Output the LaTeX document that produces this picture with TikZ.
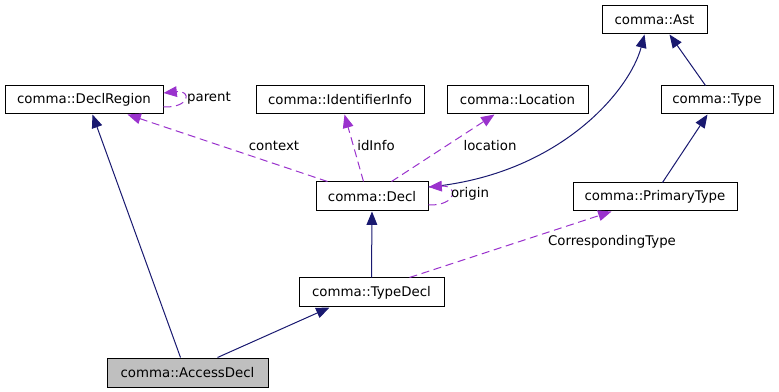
\documentclass[tikz,border=0pt]{standalone}
\usepackage{fontspec}
\setmainfont{DejaVu Sans}
\usetikzlibrary{arrows.meta}
\definecolor{edgeblue}{HTML}{191970}
\definecolor{edgepurple}{HTML}{9A32CD}
\definecolor{boxgray}{HTML}{BFBFBF}
\begin{document}
\begin{tikzpicture}[x=0.75pt,y=-0.75pt,
  cls/.style={draw=black, line width=0.75pt, fill=white, inner sep=0pt, minimum height=21pt, font=\fontsize{10}{12}\selectfont},
  lbl/.style={inner sep=0pt, font=\fontsize{10}{12}\selectfont},
  inh/.style={draw=edgeblue, line width=0.75pt, -{Triangle[length=10pt,width=8pt]}},
  dep/.style={draw=edgepurple, line width=0.75pt, dash pattern=on 6pt off 3.5pt, -{Triangle[length=10pt,width=8pt]}}
]
\useasboundingbox (0,0) rectangle (779,392);

% classes
\node[cls, minimum width=78.75pt] (ast) at (654.5,20) {comma::Ast};
\node[cls, minimum width=118.5pt] (declregion) at (84,100) {comma::DeclRegion};
\node[cls, minimum width=126pt] (idinfo) at (340,100) {comma::IdentifierInfo};
\node[cls, minimum width=105.75pt] (location) at (517.5,100) {comma::Location};
\node[cls, minimum width=84pt] (type) at (717,100) {comma::Type};
\node[cls, minimum width=84pt, minimum height=21.75pt] (decl) at (372,196.5) {comma::Decl};
\node[cls, minimum width=123pt] (primarytype) at (655,197) {comma::PrimaryType};
\node[cls, minimum width=108.75pt, minimum height=21.75pt] (typedecl) at (371.5,292.5) {comma::TypeDecl};
\node[cls, fill=boxgray, minimum width=120.75pt, minimum height=21.75pt] (accessdecl) at (187.5,372.5) {comma::AccessDecl};

% inheritance
\draw[inh] ([xshift=55.5pt]accessdecl.north west) -- ([xshift=66pt]declregion.south west);
\draw[inh] ([xshift=83.25pt]accessdecl.north west) -- ([xshift=23.25pt]typedecl.south west);
\draw[inh] (typedecl.north) -- (decl.south);
\draw[inh] ([yshift=7.125pt]decl.east) .. controls (560,175) and (630,90) .. ([xshift=32.25pt]ast.south west);
\draw[inh] ([xshift=33.75pt]type.north west) -- ([xshift=51pt]ast.south west);
\draw[inh] ([xshift=67.5pt]primarytype.north west) -- ([xshift=35.25pt]type.south west);

% usage
\draw[dep] ([xshift=9pt]decl.north west) -- ([xshift=92.25pt]declregion.south west);
\draw[dep] ([xshift=36pt]decl.north west) -- ([xshift=66.75pt]idinfo.south west);
\draw[dep] ([xshift=57pt]decl.north west) -- ([xshift=36pt]location.south west);
\draw[dep] ([xshift=83.25pt]typedecl.north west) -- ([xshift=29.25pt]primarytype.south west);
\draw[dep] ([yshift=-5.25pt]declregion.east) .. controls (190,108) and (192,90) .. ([yshift=5.25pt]declregion.east);
\draw[dep] ([yshift=-6.375pt]decl.east) .. controls (457,206) and (459,185) .. ([yshift=7.125pt]decl.east);

% labels
\node[lbl] (lparent) at (209,98) {parent};
\node[lbl] (lcontext) at (274,146) {context};
\node[lbl] (lidinfo) at (376,146) {idInfo};
\node[lbl] (llocation) at (490,146) {location};
\node[lbl] (lorigin) at (470,194) {origin};
\node[lbl] (lcorr) at (612,242) {CorrespondingType};
\end{tikzpicture}
\end{document}
